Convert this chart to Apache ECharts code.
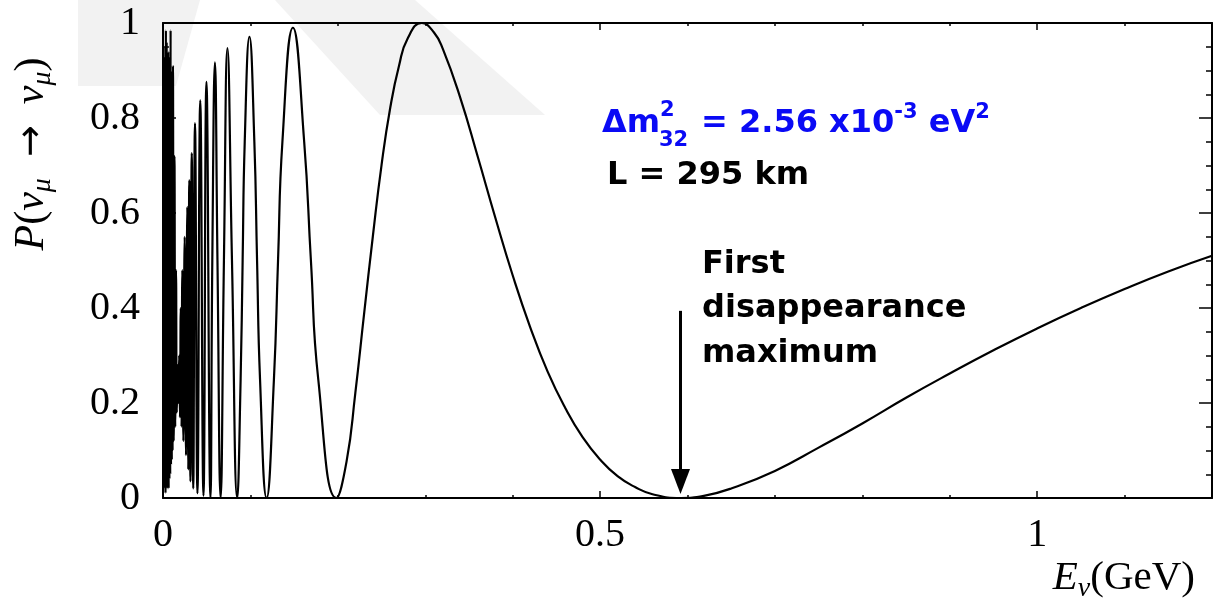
<!DOCTYPE html>
<html>
<head>
<meta charset="utf-8">
<title>P(νμ → νμ)</title>
<style>
  html, body { margin: 0; padding: 0; background: #fff; }
  #main { width: 1213px; height: 606px; }
</style>
</head>
<body>
<div id="main"></div>
<script src="https://cdn.jsdelivr.net/npm/echarts@6/dist/echarts.min.js"></script>
<script>
// 数据：横轴能量 (GeV)，纵轴存活概率
var energy = [
  0.0002, 0.0006, 0.00105, 0.0015, 0.00195, 0.0024, 0.00285, 0.0033, 0.00375, 0.0042,
  0.00465, 0.0051, 0.00555, 0.006, 0.00645, 0.0069, 0.00735, 0.0078, 0.00825, 0.0087,
  0.00915, 0.0096, 0.01005, 0.0105, 0.01095, 0.0114,
  0.0122, 0.0131, 0.014, 0.0149, 0.0158, 0.0167, 0.0176, 0.0185, 0.0194, 0.0203,
  0.0212, 0.0221, 0.0233,
  0.0248, 0.0263, 0.0278, 0.0289, 0.0301, 0.0314, 0.0329, 0.0346, 0.0366, 0.0394,
  0.0426, 0.0463, 0.0497, 0.0543, 0.0564, 0.0594, 0.0623, 0.0659, 0.0697, 0.0737,
  0.0789, 0.0849, 0.0888, 0.0911, 0.0935, 0.0989, 0.1045, 0.1076, 0.111, 0.1185,
  0.1269, 0.1316, 0.1366, 0.1486, 0.1615, 0.1692, 0.1776, 0.1983, 0.21, 0.22,
  0.23, 0.24, 0.25, 0.26, 0.27, 0.28, 0.296, 0.31, 0.32, 0.34,
  0.36, 0.38, 0.40, 0.42, 0.44, 0.46, 0.48, 0.50, 0.52, 0.54,
  0.56, 0.592, 0.62, 0.65, 0.70, 0.75, 0.80, 0.85, 0.90, 0.95,
  1.00, 1.05, 1.10, 1.15, 1.20
];
var prob = [
  0.55, 0.95, 0.02, 0.9, 0.03, 0.93, 0.01, 0.985, 0.02, 0.96,
  0.02, 0.9, 0.03, 0.94, 0.02, 0.92, 0.04, 0.93, 0.05, 0.985,
  0.07, 0.9, 0.08, 0.88, 0.1, 0.91,
  0.12, 0.72, 0.15, 0.48, 0.18, 0.28, 0.2, 0.3, 0.17, 0.4,
  0.15, 0.48, 0.12,
  0.55, 0.09, 0.613, 0.06, 0.669, 0.035, 0.726, 0.02, 0.789, 0.01,
  0.837, 0.005, 0.876, 0, 0.5, 0.917, 0.5, 0, 0.5, 0.947,
  0.5, 0, 0.25, 0.5, 0.75, 0.971, 0.75, 0.5, 0.25, 0,
  0.25, 0.5, 0.75, 0.99, 0.75, 0.5, 0.25, 0, 0.077, 0.221,
  0.387, 0.55, 0.701, 0.822, 0.91, 0.968, 1.0, 0.98, 0.946, 0.843,
  0.719, 0.591, 0.469, 0.36, 0.266, 0.19, 0.128, 0.081, 0.046, 0.023,
  0.008, 0, 0.005, 0.02, 0.057, 0.106, 0.157, 0.211, 0.262, 0.311,
  0.357, 0.4, 0.44, 0.477, 0.51
];
// 箭头指向的第一消失极大 (GeV)
var firstMaxE = 0.592;

var serif = 'Liberation Serif';
var sans = 'DejaVu Sans';
var blue = '#0a0af5';

var myChart = echarts.init(document.getElementById('main'));

var seriesData = energy.map(function (e, i) { return [e, prob[i]]; });

// 坐标轴样式
var lineBlack = { color: '#000', width: 2 };
var tickBlack = { color: '#000', width: 1.5 };

// 生成一条只画刻度的坐标轴（四边都画框线，刻度朝内）
function tickAxis(gridIndex, position, max, interval, len, extra) {
  var ax = {
    gridIndex: gridIndex, type: 'value', position: position,
    min: 0, max: max, interval: interval,
    axisLine: gridIndex === 0 ? { onZero: false, lineStyle: lineBlack } : { show: false, onZero: false },
    axisTick: { inside: true, length: len, lineStyle: tickBlack },
    axisLabel: { show: false },
    splitLine: { show: false }
  };
  if (extra) {
    for (var k in extra) ax[k] = extra[k];
  }
  return ax;
}

var option = {
  animation: false,
  backgroundColor: '#fff',
  // 两个重叠的 grid：grid 0 画细刻度和曲线，grid 1 画主刻度和标签
  grid: [
    { left: 163, right: 1, top: 23, bottom: 108 },
    { left: 163, right: 1, top: 23, bottom: 108 }
  ],
  xAxis: [
    tickAxis(0, 'bottom', 1.2, 0.1, 3),
    tickAxis(0, 'top', 1.2, 0.1, 3),
    tickAxis(1, 'bottom', 1.2, 0.5, 7, {
      axisLabel: {
        show: true, margin: 17, color: '#000', fontFamily: serif, fontSize: 40,
        showMaxLabel: false
      }
    }),
    tickAxis(1, 'top', 1.2, 0.5, 7)
  ],
  yAxis: [
    tickAxis(0, 'left', 1, 0.05, 6),
    tickAxis(0, 'right', 1, 0.05, 6),
    tickAxis(1, 'left', 1, 0.2, 13, {
      axisLabel: { show: true, margin: 23, color: '#000', fontFamily: serif, fontSize: 40 }
    }),
    tickAxis(1, 'right', 1, 0.2, 13)
  ],
  series: [
    {
      name: 'P',
      type: 'line',
      xAxisIndex: 0,
      yAxisIndex: 0,
      data: seriesData,
      smooth: 0.5,
      symbol: 'none',
      z: 3,
      lineStyle: { color: '#000', width: 2.2 },
      // 指向第一消失极大的箭头
      markLine: {
        silent: true,
        animation: false,
        label: { show: false },
        lineStyle: { color: '#000', width: 3, type: 'solid' },
        data: [
          [
            { coord: [firstMaxE, 0.394], symbol: 'none' },
            { coord: [firstMaxE, 0.035], symbol: 'triangle', symbolSize: [19, 25] }
          ]
        ]
      }
    }
  ],
  graphic: [
    // 背景淡灰水印
    {
      type: 'polygon', z: -10, silent: true,
      shape: { points: [[78, 0], [200, 0], [176, 86], [78, 86]] },
      style: { fill: '#f2f2f2' }
    },
    {
      type: 'polygon', z: -10, silent: true,
      shape: { points: [[275, 0], [415, 0], [545, 115], [380, 115]] },
      style: { fill: '#f2f2f2' }
    },
    // 纵轴标题
    {
      type: 'text', x: 32, y: 154, rotation: Math.PI / 2,
      style: {
        text: '{i|P}{n|(}{i|ν}{s|μ}{n|\u2002}{a|→}{n|\u2002}{i|ν}{s|μ}{n|)}',
        align: 'center', verticalAlign: 'middle', fill: '#000',
        rich: {
          i: { fontFamily: serif, fontStyle: 'italic', fontSize: 42, lineHeight: 50 },
          n: { fontFamily: serif, fontSize: 42, lineHeight: 50 },
          a: { fontFamily: sans, fontSize: 38, lineHeight: 50 },
          s: { fontFamily: serif, fontStyle: 'italic', fontSize: 28, lineHeight: 20, verticalAlign: 'bottom' }
        }
      }
    },
    // 横轴标题
    {
      type: 'text', x: 1195, y: 578,
      style: {
        text: '{i|E}{s|ν}{n|(GeV)}',
        align: 'right', verticalAlign: 'middle', fill: '#000',
        rich: {
          i: { fontFamily: serif, fontStyle: 'italic', fontSize: 41, lineHeight: 50 },
          n: { fontFamily: serif, fontSize: 41, lineHeight: 50 },
          s: { fontFamily: serif, fontStyle: 'italic', fontSize: 28, lineHeight: 20, verticalAlign: 'bottom' }
        }
      }
    },
    // Δm²₃₂ = 2.56 x10⁻³ eV²
    {
      type: 'text', x: 602, y: 124,
      style: { text: 'Δm', font: 'bold 32px "DejaVu Sans"', fill: blue, align: 'left', verticalAlign: 'middle' }
    },
    {
      type: 'text', x: 660, y: 111,
      style: { text: '2', font: 'bold 21px "DejaVu Sans"', fill: blue, align: 'left', verticalAlign: 'middle' }
    },
    {
      type: 'text', x: 659, y: 141,
      style: { text: '32', font: 'bold 21px "DejaVu Sans"', fill: blue, align: 'left', verticalAlign: 'middle' }
    },
    {
      type: 'text', x: 701, y: 124,
      style: {
        text: '{m|= 2.56 x10}{p|-3}{m| eV}{p|2}',
        align: 'left', verticalAlign: 'middle', fill: blue,
        rich: {
          m: { fontFamily: sans, fontWeight: 'bold', fontSize: 32, lineHeight: 44 },
          p: { fontFamily: sans, fontWeight: 'bold', fontSize: 21, lineHeight: 22, verticalAlign: 'top' }
        }
      }
    },
    {
      type: 'text', x: 607, y: 176,
      style: { text: 'L = 295 km', font: 'bold 32px "DejaVu Sans"', fill: '#000', align: 'left', verticalAlign: 'middle' }
    },
    {
      type: 'text', x: 702, y: 242,
      style: {
        text: 'First\ndisappearance\nmaximum',
        font: 'bold 32px "DejaVu Sans"', lineHeight: 44.5,
        fill: '#000', align: 'left', verticalAlign: 'top'
      }
    }
  ]
};

myChart.setOption(option);
</script>
</body>
</html>
